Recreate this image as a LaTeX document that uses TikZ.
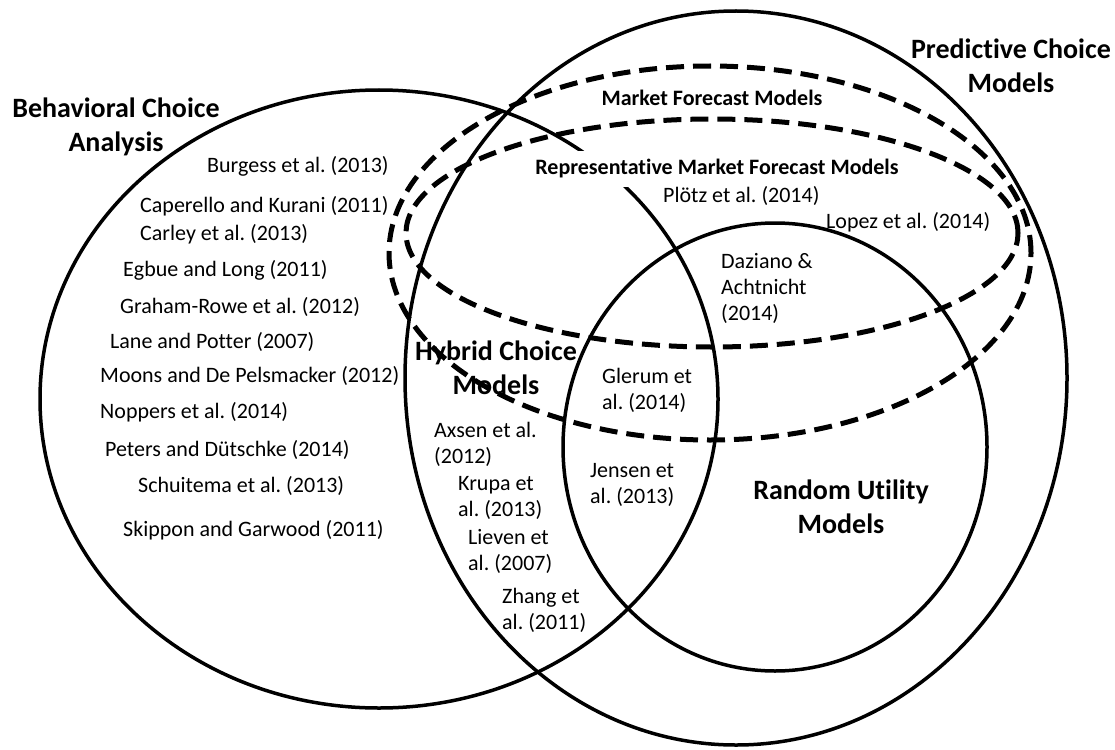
\documentclass[tikz,border=0pt]{standalone}
\usepackage{fontspec}
\setmainfont{Carlito}[Ligatures=NoCommon]
\usepackage{tikz}
\usetikzlibrary{shapes.geometric}
\frenchspacing
\tikzset{
venn/.style={ellipse, draw, line width=3.5pt, inner sep=0pt}, % solid outline of a model family
venndash/.style={ellipse, draw, line width=5pt, inner sep=0pt, dash pattern=on 18pt off 9pt}, % dashed outline of the forecast models
cite/.style={font=\fontsize{22}{26}\selectfont, inner sep=0pt, align=left, anchor=west}, % one study, placed by its left end
heading/.style={font=\bfseries\fontsize{28}{34}\selectfont, inner sep=0pt, align=center}, % name of a model family
subheading/.style={font=\bfseries\fontsize{22}{26}\selectfont, inner sep=0pt}, % name of a forecast subset
}

\begin{document}
\begin{tikzpicture}[x=1pt, y=-1pt]
\useasboundingbox (0,0) rectangle (1115,749);

            \node[heading] (hcm) at (496,368) {Hybrid Choice\\Models};

            \node[venn, minimum width=678pt, minimum height=618pt] (bca) at (379,399) {};
            \node[venn, minimum width=662pt, minimum height=734pt] (pcm) at (736,378) {};
            \node[venn, minimum width=424pt, minimum height=448pt] (rum) at (775,447) {};

            \node[subheading, fill=white, inner xsep=2pt, inner ysep=9pt] (rmf) at (717,169) {Representative Market Forecast Models};

            \node[venndash, minimum width=642pt, minimum height=374pt] (mfm) at (710,253) {};
            \node[venndash, minimum width=612pt, minimum height=228pt] (rmfm) at (712,233) {};

            \node[heading] (bcalabel) at (116,127) {Behavioral Choice\\Analysis};
            \node[heading] (pcmlabel) at (1011,66) {Predictive Choice\\Models};
            \node[heading] (rumlabel) at (841,507) {Random Utility\\Models};
            \node[subheading] (mfmlabel) at (712,98) {Market Forecast Models};

            \node[cite] (burgess) at (207,166) {Burgess et al. (2013)};
            \node[cite] (caperello) at (140,206) {Caperello and Kurani (2011)};
            \node[cite] (carley) at (140,234) {Carley et al. (2013)};
            \node[cite] (egbue) at (123,270) {Egbue and Long (2011)};
            \node[cite] (graham) at (120,307) {Graham-Rowe et al. (2012)};
            \node[cite] (lane) at (110,342) {Lane and Potter (2007)};
            \node[cite] (moons) at (100,376) {Moons and De Pelsmacker (2012)};
            \node[cite] (noppers) at (100,412) {Noppers et al. (2014)};
            \node[cite] (peters) at (105,450) {Peters and Dütschke (2014)};
            \node[cite] (schuitema) at (138,486) {Schuitema et al. (2013)};
            \node[cite] (skippon) at (123,530) {Skippon and Garwood (2011)};

            \node[cite] (axsen) at (434,444) {Axsen et al.\\(2012)};
            \node[cite] (krupa) at (458,498) {Krupa et\\al. (2013)};
            \node[cite] (lieven) at (468,551) {Lieven et\\al. (2007)};
            \node[cite] (zhang) at (502,610) {Zhang et\\al. (2011)};

            \node[cite] (glerum) at (602,390) {Glerum et\\al. (2014)};
            \node[cite] (jensen) at (590,485) {Jensen et\\al. (2013)};

            \node[cite] (plotz) at (663,196) {Plötz et al. (2014)};
            \node[cite] (lopez) at (826,222) {Lopez et al. (2014)};
            \node[cite] (daziano) at (721,288) {Daziano \&\\Achtnicht\\(2014)};
\end{tikzpicture}
\end{document}
